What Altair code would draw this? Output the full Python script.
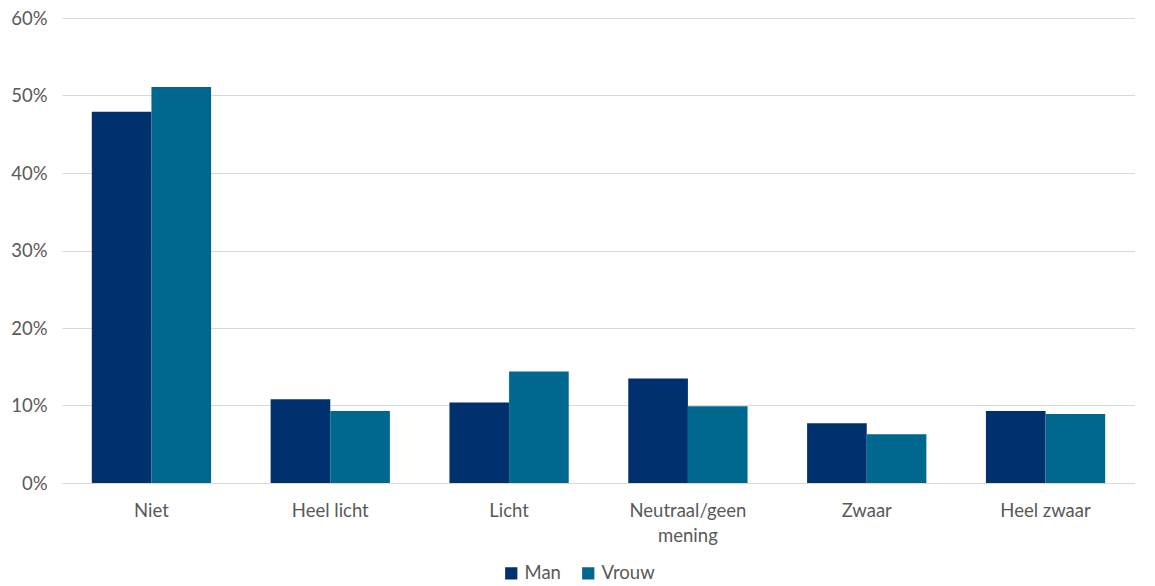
import altair as alt
import pandas as pd

categories = ["Niet", "Heel licht", "Licht", "Neutraal/geen mening", "Zwaar", "Heel zwaar"]
man = [0.479, 0.108, 0.104, 0.135, 0.077, 0.093]
vrouw = [0.511, 0.093, 0.144, 0.099, 0.063, 0.089]
series = ["Man", "Vrouw"]
colors = ["#00306E", "#00688F"]

rows = []
for c, m, v in zip(categories, man, vrouw):
    rows.append({"cat": c, "serie": "Man", "val": m})
    rows.append({"cat": c, "serie": "Vrouw", "val": v})
df = pd.DataFrame(rows)

font = "Lato"
txt = "#595959"
fs = 18.5

chart = alt.Chart(df).mark_bar().encode(
    x=alt.X("cat:N", sort=categories, title=None,
            scale=alt.Scale(paddingInner=0.333, paddingOuter=0.1667),
            axis=alt.Axis(labelAngle=0, labelPadding=18, ticks=False, domain=False, grid=False,
                          labelFont=font, labelFontSize=fs, labelColor=txt,
                          labelLineHeight=25, labelBaseline="top",
                          labelExpr="datum.value == 'Neutraal/geen mening' ? ['Neutraal/geen', 'mening'] : datum.value")),
    xOffset=alt.XOffset("serie:N", sort=series),
    y=alt.Y("val:Q", title=None,
            scale=alt.Scale(domain=[0, 0.6]),
            axis=alt.Axis(format=".0%", values=[0, 0.1, 0.2, 0.3, 0.4, 0.5, 0.6],
                          ticks=False, domain=False, labelPadding=15,
                          labelFont=font, labelFontSize=fs, labelColor=txt,
                          gridColor="#D9D9D9", gridWidth=1)),
    color=alt.Color("serie:N", sort=series,
                    scale=alt.Scale(domain=series, range=colors),
                    legend=alt.Legend(title=None, orient="none", direction="horizontal",
                                      legendX=440, legendY=546,
                                      symbolType="square", symbolSize=150,
                                      symbolStrokeWidth=0, symbolOpacity=1,
                                      labelFont=font, labelFontSize=fs, labelColor=txt,
                                      columnPadding=18)),
).properties(width=1073, height=465,
             padding={"top": 1, "left": 2, "right": 0, "bottom": 0},
             background="white").configure_view(stroke=None)

chart.save("out.html", embed_options={"renderer": "svg", "actions": False})
